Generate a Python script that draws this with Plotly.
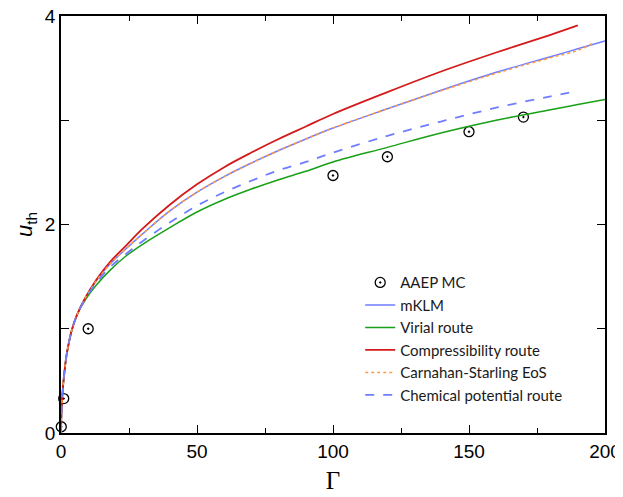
"""
Thermal energy u_th versus coupling Gamma: MC data and theory routes
"""

import plotly.graph_objects as go

# ---- data ----
mc_gamma = [0.1, 1, 10, 100, 120, 150, 170]
mc_u = [0.06, 0.33, 1.0, 2.47, 2.65, 2.89, 3.03]

gamma = [0, 0.25, 0.5, 1, 1.5, 2, 3, 4, 6, 9, 13, 18, 24, 30, 40, 50, 60, 70, 80, 90,
         100, 120, 140, 160, 180, 190, 200]

low = [0, 0.25, 0.36, 0.52, 0.64, 0.74, 0.88, 0.99, 1.14]  # all routes coincide here

u_mklm = low + [1.30, 1.46, 1.62, 1.77, 1.91, 2.13, 2.31, 2.46, 2.59, 2.71, 2.82,
                2.925, 3.11, 3.29, 3.46, 3.61, 3.685, 3.76]
u_virial = low + [1.28, 1.42, 1.56, 1.70, 1.81, 1.97, 2.12, 2.24, 2.34, 2.43, 2.51,
                  2.60, 2.74, 2.88, 3.00, 3.10, 3.15, 3.20]
u_compress = low + [1.30, 1.47, 1.64, 1.80, 1.96, 2.19, 2.385, 2.55, 2.69, 2.82, 2.94,
                    3.06, 3.27, 3.47, 3.65, 3.82, 3.91]
u_cs = low + [1.30, 1.46, 1.62, 1.77, 1.91, 2.13, 2.31, 2.46, 2.59, 2.71, 2.82,
              2.925, 3.11, 3.285, 3.45, 3.60, 3.67]
cs_end = (196, 3.745)
u_chem = low + [1.29, 1.44, 1.59, 1.72, 1.84, 2.02, 2.18, 2.31, 2.42, 2.52, 2.60,
                2.69, 2.85, 2.99, 3.12, 3.23]
chem_end = (188, 3.27)

x_ticks = [0, 50, 100, 150, 200]
y_ticks = [0, 2, 4]

BLUE = '#6f7dff'
GREEN = '#18a018'
RED = '#d41a1a'
ORANGE = '#ff9a3c'

fig = go.Figure()

fig.add_trace(go.Scatter(
    x=mc_gamma, y=mc_u, mode='markers', name='AAEP MC',
    marker=dict(symbol='circle-open-dot', size=10, color='black',
                line=dict(width=1.3, color='black')),
    cliponaxis=False, legendgroup='a'
))
fig.add_trace(go.Scatter(
    x=gamma, y=u_mklm, mode='lines', name='mKLM',
    line=dict(color=BLUE, width=1.5, shape='spline'), legendgroup='b'
))
fig.add_trace(go.Scatter(
    x=gamma, y=u_virial, mode='lines', name='Virial route',
    line=dict(color=GREEN, width=1.5, shape='spline'), legendgroup='c'
))
fig.add_trace(go.Scatter(
    x=gamma[:len(u_compress)], y=u_compress, mode='lines', name='Compressibility route',
    line=dict(color=RED, width=1.8, shape='spline'), legendgroup='d'
))
fig.add_trace(go.Scatter(
    x=gamma[:len(u_cs)] + [cs_end[0]], y=u_cs + [cs_end[1]], mode='lines',
    name='Carnahan-Starling EoS',
    line=dict(color=ORANGE, width=1.5, dash='dot', shape='spline'), legendgroup='e'
))
fig.add_trace(go.Scatter(
    x=gamma[:len(u_chem)] + [chem_end[0]], y=u_chem + [chem_end[1]], mode='lines',
    name='Chemical potential route',
    line=dict(color=BLUE, width=1.8, dash='dash', shape='spline'), legendgroup='f'
))

# page body adds an 8px offset, so the figure is sized 8px smaller each way
fig.update_layout(
    width=615, height=489,
    margin=dict(l=53, r=18, t=8, b=64),
    plot_bgcolor='white', paper_bgcolor='white',
    font=dict(family='Liberation Sans, Arial, sans-serif', size=19, color='black'),
    showlegend=True,
    legend=dict(
        x=0.55, y=0.40, xanchor='left', yanchor='top',
        bgcolor='rgba(0,0,0,0)', borderwidth=0,
        font=dict(family='Lato, sans-serif', size=15, color='#1a1a1a'),
        tracegroupgap=0
    )
)

fig.update_xaxes(
    range=[0, 200], tickvals=x_ticks, automargin=False, ticklabeloverflow='allow',
    showgrid=False, zeroline=False,
    showline=True, linewidth=1.6, linecolor='black', mirror='ticks',
    ticks='inside', ticklen=8, tickwidth=1.3, tickcolor='black',
    minor=dict(dtick=25, ticks='inside', ticklen=5, tickwidth=1.3, tickcolor='black', showgrid=False),
    title=dict(text='Γ', font=dict(family='Liberation Serif, Times New Roman, serif', size=25),
               standoff=11)
)

fig.update_yaxes(
    range=[0, 4], tickvals=y_ticks, automargin=False, ticklabeloverflow='allow',
    showgrid=False, zeroline=False,
    showline=True, linewidth=1.6, linecolor='black', mirror='ticks',
    ticks='inside', ticklen=8, tickwidth=1.3, tickcolor='black',
    minor=dict(dtick=1, ticks='inside', ticklen=8, tickwidth=1.3, tickcolor='black', showgrid=False),
    title=dict(text='<i>u</i><sub>th</sub>', font=dict(size=22), standoff=6)
)

fig.write_html("out.html")
